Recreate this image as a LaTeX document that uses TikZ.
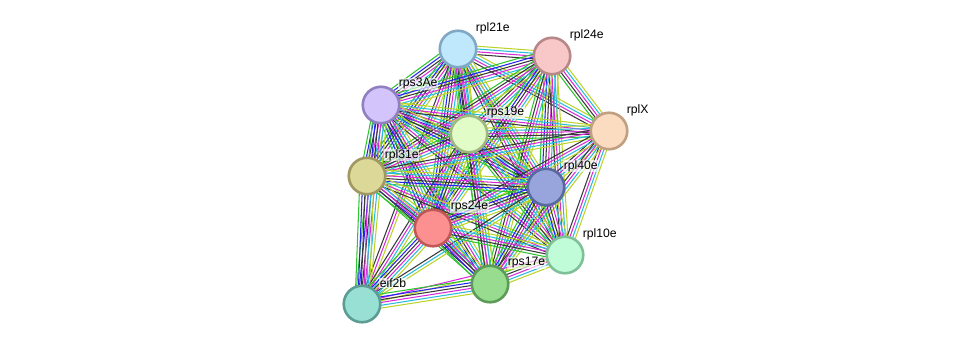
\documentclass[tikz,border=0pt]{standalone}
\usepackage{fontspec}
\setmainfont{Liberation Sans}
\usetikzlibrary{calc}
\pgfdeclarelayer{bg}
\pgfsetlayers{bg,main}
\definecolor{eG}{HTML}{2EC42E}
\definecolor{eB}{HTML}{2424F0}
\definecolor{eK}{HTML}{383838}
\definecolor{eM}{HTML}{D82AD8}
\definecolor{eC}{HTML}{2ABCDC}
\definecolor{eY}{HTML}{BCD42A}
\newcommand\bndgap{2.8}
\newcommand\bnd[3]{%
  \edef\bndlist{#3}%
  \gdef\bndn{0}%
  \foreach \cc in \bndlist {\xdef\bndn{\the\numexpr\bndn+1\relax}}%
  \foreach \cc [count=\ii] in \bndlist {%
    \pgfmathsetmacro\off{(\ii-1-(\bndn-1)/2)*\bndgap}%
    \draw[edge,\cc] ($(#1.center)!\off pt!90:(#2.center)$) -- ($(#2.center)!\off pt!-90:(#1.center)$);
  }}
\newcommand\F{eG,eB,eK,eM,eC,eY}
\newcommand\A{eG,eK,eM,eC,eY}
\newcommand\Sd{eK,eM,eC,eY}
\tikzset{
  edge/.style={line width=1.05pt},
  prot/.style={circle,minimum size=36.5pt,inner sep=0pt,line width=2.6pt},
  lbl/.style={anchor=west,font=\fontsize{12.2}{14}\selectfont,fill=white,fill opacity=0.65,text opacity=1,inner sep=0.6pt}
}
\begin{document}
\begin{tikzpicture}[x=1pt,y=-1pt]
\useasboundingbox (0,0) rectangle (976,350);
\node[prot,fill={rgb,255:red,192;green,232;blue,252},draw={rgb,255:red,128;green,168;blue,196}] (a) at (458,49) {};
\node[prot,fill={rgb,255:red,248;green,200;blue,200},draw={rgb,255:red,184;green,136;blue,136}] (b) at (552,56) {};
\node[prot,fill={rgb,255:red,212;green,196;blue,252},draw={rgb,255:red,144;green,128;blue,192}] (c) at (381,105) {};
\node[prot,fill={rgb,255:red,226;green,252;blue,200},draw={rgb,255:red,160;green,184;blue,128}] (d) at (469,134) {};
\node[prot,fill={rgb,255:red,252;green,220;blue,192},draw={rgb,255:red,192;green,160;blue,128}] (e) at (609,131) {};
\node[prot,fill={rgb,255:red,220;green,216;blue,152},draw={rgb,255:red,160;green,152;blue,96}] (f) at (367,176) {};
\node[prot,fill={rgb,255:red,152;green,164;blue,220},draw={rgb,255:red,88;green,104;blue,160}] (g) at (546,187) {};
\node[prot,fill={rgb,255:red,252;green,144;blue,144},draw={rgb,255:red,192;green,88;blue,88}] (h) at (433,228) {};
\node[prot,fill={rgb,255:red,192;green,252;blue,216},draw={rgb,255:red,128;green,192;blue,152}] (i) at (565,255) {};
\node[prot,fill={rgb,255:red,152;green,220;blue,144},draw={rgb,255:red,92;green,156;blue,88}] (j) at (490,284) {};
\node[prot,fill={rgb,255:red,152;green,224;blue,212},draw={rgb,255:red,92;green,156;blue,148}] (k) at (362,304) {};
\begin{pgfonlayer}{bg}
\fill[white] (0,0) rectangle (976,350);
\bnd{a}{b}{\Sd}
\bnd{a}{c}{\F}
\bnd{a}{d}{\F}
\bnd{a}{e}{\Sd}
\bnd{a}{f}{\F}
\bnd{a}{g}{\A}
\bnd{a}{h}{\F}
\bnd{a}{i}{\Sd}
\bnd{a}{j}{\A}
\bnd{a}{k}{eK,eM,eY}
\bnd{b}{c}{\F}
\bnd{b}{d}{\A}
\bnd{b}{e}{\A}
\bnd{b}{f}{\A}
\bnd{b}{g}{\F}
\bnd{b}{h}{\F}
\bnd{b}{i}{\Sd}
\bnd{b}{j}{\A}
\bnd{c}{d}{\F}
\bnd{c}{e}{\Sd}
\bnd{c}{f}{\F}
\bnd{c}{g}{\F}
\bnd{c}{h}{\F}
\bnd{c}{i}{\Sd}
\bnd{c}{j}{\F}
\bnd{c}{k}{\F}
\bnd{d}{e}{\A}
\bnd{d}{f}{\A}
\bnd{d}{g}{\F}
\bnd{d}{h}{\F}
\bnd{d}{i}{\A}
\bnd{d}{j}{\A}
\bnd{d}{k}{\Sd}
\bnd{e}{f}{\Sd}
\bnd{e}{g}{\Sd}
\bnd{e}{h}{\Sd}
\bnd{e}{i}{\Sd}
\bnd{e}{j}{\Sd}
\bnd{f}{g}{\F}
\bnd{f}{h}{\F}
\bnd{f}{i}{\Sd}
\bnd{f}{j}{\A}
\bnd{f}{k}{\F}
\bnd{g}{h}{\F}
\bnd{g}{i}{\F}
\bnd{g}{j}{\F}
\bnd{g}{k}{eK,eC,eY}
\bnd{h}{i}{\A}
\bnd{h}{j}{\F}
\bnd{h}{k}{\F}
\bnd{i}{j}{\A}
\bnd{i}{k}{eM,eY}
\bnd{j}{k}{\F}
\end{pgfonlayer}
\node[lbl] (la) at (475,28) {rpl21e};
\node[lbl] (lb) at (569,35) {rpl24e};
\node[lbl] (lc) at (398,84) {rps3Ae};
\node[lbl] (ld) at (486,113) {rps19e};
\node[lbl] (le) at (626,110) {rplX};
\node[lbl] (lf) at (384,155) {rpl31e};
\node[lbl] (lg) at (563,166) {rpl40e};
\node[lbl] (lh) at (450,207) {rps24e};
\node[lbl] (li) at (582,234) {rpl10e};
\node[lbl] (lj) at (507,263) {rps17e};
\node[lbl] (lk) at (379,283) {eif2b};
\end{tikzpicture}
\end{document}
